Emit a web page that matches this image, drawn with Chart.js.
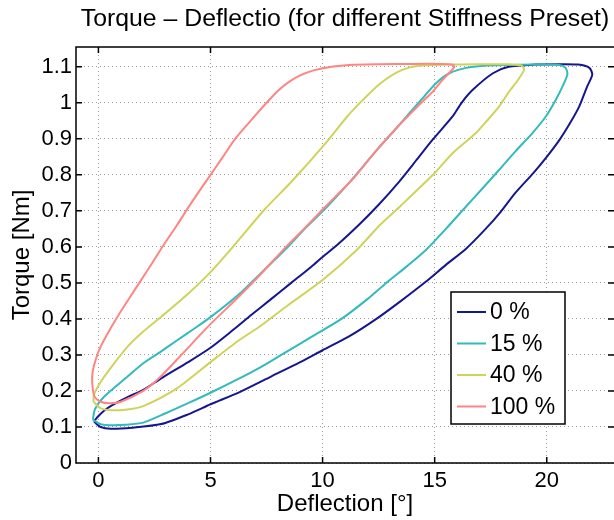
<!DOCTYPE html>
<html>
<head>
<meta charset="utf-8">
<script src="https://cdn.jsdelivr.net/npm/chart.js@4.4.0/dist/chart.umd.min.js"></script>
<style>
  html, body { margin: 0; padding: 0; background: #fff; }
  #wrap { width: 614px; height: 520px; }
</style>
</head>
<body>
<div id="wrap"><canvas id="tdChart" width="614" height="520"></canvas></div>
<script>
/* Torque - Deflection hysteresis loops, one per stiffness preset */

const PRESETS = ['0 %', '15 %', '40 %', '100 %'];
const COLORS = ['#16168f', '#33baba', '#cfd35a', '#ff8585'];

// each loop: lower branch out to the 1.1 Nm plateau, then upper branch back
const defl0 = [-0.2, 0.1, 0.55, 1.5, 2.8, 4.0, 5.0, 6.3, 7.7, 9.0, 10.0, 11.2, 12.4, 13.5, 14.6, 15.5, 16.4, 17.2, 17.9, 18.6, 19.4, 20.0, 20.6, 21.1, 21.45, 21.8, 22.03, 21.9, 21.4, 20.5, 19.5,
  18.3, 17.6, 16.7, 16.2, 15.8, 14.9, 14.2, 13.4, 12.5, 11.6, 10.7, 10.0, 9.5, 8.6, 7.7, 6.8, 6.0, 5.0, 4.0, 2.8, 2.0, 1.3, 0.6, 0.25, -0.05, -0.2];
const torque0 = [0.115, 0.1, 0.095, 0.098, 0.108, 0.135, 0.163, 0.197, 0.24, 0.28, 0.313, 0.352, 0.40, 0.45, 0.503, 0.55, 0.595, 0.645, 0.694, 0.75, 0.805, 0.85, 0.9, 0.95, 0.99, 1.045, 1.078, 1.097, 1.106, 1.107, 1.106,
  1.10, 1.082, 1.036, 1.0, 0.962, 0.897, 0.842, 0.78, 0.717, 0.66, 0.608, 0.572, 0.545, 0.5, 0.455, 0.41, 0.369, 0.32, 0.28, 0.235, 0.203, 0.183, 0.16, 0.145, 0.127, 0.115];

const defl15 = [-0.25, 0.1, 0.5, 1.2, 2.0, 3.0, 4.0, 5.0, 6.2, 7.2, 8.1, 9.5, 10.84, 12.0, 12.84, 13.8, 14.62, 15.5, 16.4, 17.1, 17.88, 18.6, 19.36, 19.96, 20.4, 20.7, 20.92, 20.84, 20.55, 19.5, 18.4,
  17.2, 16.4, 15.66, 15.07, 14.5, 14.0, 13.3, 12.5, 11.8, 11.0, 10.1, 9.2, 8.4, 7.1, 6.3, 5.0, 4.2, 3.5, 2.8, 2.0, 1.3, 0.25, -0.15, -0.25];
const torque15 = [0.12, 0.108, 0.105, 0.106, 0.112, 0.138, 0.166, 0.195, 0.232, 0.265, 0.298, 0.35, 0.4, 0.455, 0.5, 0.548, 0.592, 0.65, 0.712, 0.76, 0.814, 0.865, 0.916, 0.962, 1.008, 1.045, 1.078, 1.097, 1.105, 1.106, 1.105,
  1.103, 1.097, 1.082, 1.055, 1.015, 0.98, 0.93, 0.875, 0.823, 0.765, 0.705, 0.65, 0.597, 0.518, 0.47, 0.405, 0.37, 0.34, 0.31, 0.277, 0.24, 0.184, 0.15, 0.12];

const defl40 = [-0.22, 0.1, 0.44, 1.2, 2.0, 3.5, 5.0, 6.3, 7.2, 8.5, 10.0, 11.5, 12.55, 13.5, 15.0, 15.8, 16.84, 17.4, 17.88, 18.33, 18.7, 18.99, 18.84, 18.2, 17.0, 15.5, 14.3,
  13.5, 12.6, 11.8, 11.1, 10.1, 8.6, 7.4, 6.0, 5.0, 4.0, 2.8, 2.0, 1.3, 0.5, 0.1, -0.2, -0.22];
const torque40 = [0.17, 0.152, 0.147, 0.148, 0.158, 0.207, 0.28, 0.342, 0.379, 0.44, 0.508, 0.59, 0.66, 0.715, 0.805, 0.86, 0.916, 0.955, 0.99, 1.032, 1.062, 1.092, 1.104, 1.107, 1.107, 1.106, 1.103,
  1.09, 1.055, 1.008, 0.962, 0.885, 0.78, 0.703, 0.6, 0.53, 0.47, 0.406, 0.365, 0.323, 0.26, 0.225, 0.19, 0.17];

const defl100 = [-0.27, -0.18, 0.1, 0.5, 1.0, 2.0, 2.7, 3.7, 4.6, 5.2, 6.2, 7.1, 8.4, 9.2, 10.1, 11.4, 12.3, 13.3, 14.4, 14.9, 15.3, 15.6, 15.88, 15.8, 15.2, 14.0, 12.5, 11.2,
  10.4, 9.6, 9.0, 8.5, 8.0, 7.5, 7.0, 6.1, 5.5, 5.0, 4.1, 3.5, 2.8, 2.4, 1.75, 0.85, 0.1, -0.2, -0.28, -0.27];
const torque100 = [0.215, 0.185, 0.17, 0.166, 0.17, 0.2, 0.235, 0.3, 0.36, 0.398, 0.458, 0.515, 0.602, 0.652, 0.71, 0.792, 0.86, 0.93, 1.0, 1.03, 1.06, 1.08, 1.1, 1.106, 1.108, 1.108, 1.107, 1.105,
  1.1, 1.09, 1.076, 1.058, 1.033, 1.0, 0.965, 0.9, 0.845, 0.8, 0.718, 0.66, 0.595, 0.555, 0.493, 0.406, 0.323, 0.27, 0.24, 0.215];

const X_TICKS = [0, 5, 10, 15, 20];
const Y_TICKS = [0, 0.1, 0.2, 0.3, 0.4, 0.5, 0.6, 0.7, 0.8, 0.9, 1, 1.1];

const FONT = "'Liberation Sans', Arial, Helvetica, sans-serif";
const TICK_LEN = 6;

function toPoints(xs, ys) { return xs.map((v, i) => ({ x: v, y: ys[i] })); }

const SERIES = [[defl0, torque0], [defl15, torque15], [defl40, torque40], [defl100, torque100]];

/* frame with inward ticks + boxed legend, drawn over the curves */
const matlabFrame = {
  id: 'matlabFrame',
  afterDatasetsDraw(chart) {
    const { ctx, chartArea: a, scales: { x, y } } = chart;
    ctx.save();
    ctx.strokeStyle = '#000';
    ctx.lineWidth = 1.5;
    ctx.beginPath();
    ctx.moveTo(a.right, a.top); ctx.lineTo(a.left, a.top);
    ctx.lineTo(a.left, a.bottom); ctx.lineTo(a.right, a.bottom);
    X_TICKS.forEach(v => {
      const px = x.getPixelForValue(v);
      ctx.moveTo(px, a.bottom); ctx.lineTo(px, a.bottom - TICK_LEN);
      ctx.moveTo(px, a.top); ctx.lineTo(px, a.top + TICK_LEN);
    });
    Y_TICKS.forEach(v => {
      const py = y.getPixelForValue(v);
      ctx.moveTo(a.left, py); ctx.lineTo(a.left + TICK_LEN, py);
      ctx.moveTo(a.right, py); ctx.lineTo(a.right - TICK_LEN, py);
    });
    ctx.stroke();

    // legend box
    const lx = 451, ly = 292, lw = 114, lh = 132;
    ctx.fillStyle = '#fff';
    ctx.fillRect(lx, ly, lw, lh);
    ctx.strokeRect(lx, ly, lw, lh);
    ctx.font = '23px ' + FONT;
    ctx.textBaseline = 'middle';
    ctx.textAlign = 'left';
    chart.data.datasets.forEach((ds, i) => {
      const ry = ly + 20 + i * 31.5;
      ctx.strokeStyle = ds.borderColor;
      ctx.lineWidth = 2;
      ctx.beginPath(); ctx.moveTo(lx + 6, ry); ctx.lineTo(lx + 35, ry); ctx.stroke();
      ctx.fillStyle = '#000';
      ctx.fillText(ds.label, lx + 39, ry + 1);
    });
    ctx.restore();
  }
};

const fixedTicks = (values) => (scale) => {
  scale.ticks = values.map(v => ({ value: v }));
};

new Chart(document.getElementById('tdChart'), {
  type: 'scatter',
  data: {
    datasets: SERIES.map((s, i) => ({
      label: PRESETS[i],
      data: toPoints(s[0], s[1]),
      borderColor: COLORS[i],
      backgroundColor: COLORS[i],
      borderWidth: 2,
      showLine: true,
      pointRadius: 0,
      tension: 0.25,
      order: SERIES.length - i,
    }))
  },
  options: {
    responsive: false,
    animation: false,
    devicePixelRatio: 1,
    layout: { padding: 0 },
    plugins: {
      legend: { display: false },
      tooltip: { enabled: false },
      title: {
        display: true,
        fullSize: false,
        text: 'Torque – Deflectio (for different Stiffness Preset)',
        color: '#000',
        font: { family: FONT, size: 24.8, weight: 'normal' },
        padding: { top: 4, bottom: 13.2 },
      },
    },
    scales: {
      x: {
        type: 'linear', min: -1, max: 23,
        afterBuildTicks: fixedTicks(X_TICKS),
        afterFit: s => { s.height = 57; },
        ticks: { color: '#000', font: { family: FONT, size: 22 }, padding: 5, maxRotation: 0, autoSkip: false, callback: v => String(v) },
        grid: { color: '#9a9a9a', lineWidth: 1, drawTicks: false },
        border: { display: false, dash: [1, 3] },
        title: { display: true, text: 'Deflection [°]', color: '#000', font: { family: FONT, size: 24 }, padding: { top: 0, bottom: 1 } },
      },
      y: {
        type: 'linear', min: 0, max: 1.155,
        afterBuildTicks: fixedTicks(Y_TICKS),
        afterFit: s => { s.width = 76; },
        ticks: { color: '#000', font: { family: FONT, size: 22 }, padding: 4, autoSkip: false, callback: v => String(Math.round(v * 10) / 10) },
        grid: { color: '#9a9a9a', lineWidth: 1, drawTicks: false },
        border: { display: false, dash: [1, 3] },
        title: { display: true, text: 'Torque [Nm]', color: '#000', font: { family: FONT, size: 24 }, padding: { top: 8, bottom: 0 } },
      }
    }
  },
  plugins: [matlabFrame]
});
</script>
</body>
</html>
